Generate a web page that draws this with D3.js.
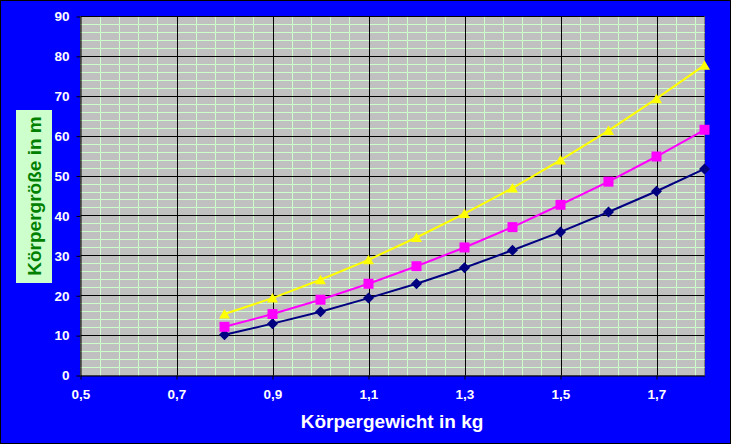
<!DOCTYPE html>
<html>
<head>
<meta charset="utf-8">
<script src="https://cdn.jsdelivr.net/npm/d3@7"></script>
<style>
  html, body { margin: 0; padding: 0; background: #fff; }
  svg { display: block; }
  text { font-family: "Liberation Sans", Arial, sans-serif; }
</style>
</head>
<body>
<svg id="chart" width="731" height="444"></svg>
<script>
// ---- data ----
const weights = [0.8, 0.9, 1.0, 1.1, 1.2, 1.3, 1.4, 1.5, 1.6, 1.7, 1.8];
const seriesNavy = [10.2, 13.0, 16.0, 19.4, 23.0, 27.0, 31.4, 36.0, 41.0, 46.2, 51.8];
const seriesMagenta = [12.2, 15.4, 19.0, 23.0, 27.4, 32.1, 37.2, 42.8, 48.6, 54.9, 61.6];
const seriesYellow = [15.4, 19.4, 24.0, 29.0, 34.6, 40.6, 47.0, 54.0, 61.4, 69.4, 77.8];
const xTickValues = [0.5, 0.7, 0.9, 1.1, 1.3, 1.5, 1.7];
const xTickLabels = ["0,5", "0,7", "0,9", "1,1", "1,3", "1,5", "1,7"];
const yTickValues = [0, 10, 20, 30, 40, 50, 60, 70, 80, 90];
const xTitle = "Körpergewicht in kg";
const yTitle = "Körpergröße in m";

const svg = d3.select("#chart");
const W = 731, H = 444;

// background + border
svg.append("rect").attr("x", 0.5).attr("y", 0.5).attr("width", W - 1).attr("height", H - 1)
  .attr("fill", "#0000FF").attr("stroke", "#000").attr("stroke-width", 1);

const x = d3.scaleLinear().domain([0.5, 1.8]).range([80.5, 704.5]);
const y = d3.scaleLinear().domain([0, 90]).range([375.5, 16.5]);

// plot area
svg.append("rect")
  .attr("x", x(0.5)).attr("y", y(90))
  .attr("width", x(1.8) - x(0.5)).attr("height", y(0) - y(90))
  .attr("fill", "#C0C0C0").attr("stroke", "#808080").attr("stroke-width", 1);

const grid = svg.append("g");
// minor grid
const xMinor = d3.range(0, 33).map(i => 0.5 + i * 0.04).filter(v => v > 0.5 && v < 1.8);
const yMinor = d3.range(1, 45).map(i => i * 2);
grid.selectAll(".vmin").data(xMinor).join("line")
  .attr("x1", d => Math.round(x(d)) + 0.5).attr("x2", d => Math.round(x(d)) + 0.5)
  .attr("y1", y(90)).attr("y2", y(0))
  .attr("stroke", "#CCFFCC").attr("stroke-width", 1);
grid.selectAll(".hmin").data(yMinor).join("line")
  .attr("x1", x(0.5)).attr("x2", x(1.8))
  .attr("y1", d => Math.round(y(d) - 0.5) + 0.5).attr("y2", d => Math.round(y(d) - 0.5) + 0.5)
  .attr("stroke", "#CCFFCC").attr("stroke-width", 1);
// major grid
grid.selectAll(".vmaj").data(xTickValues.slice(1)).join("line")
  .attr("x1", d => Math.round(x(d)) + 0.5).attr("x2", d => Math.round(x(d)) + 0.5)
  .attr("y1", y(90)).attr("y2", y(0))
  .attr("stroke", "#000").attr("stroke-width", 1);
grid.selectAll(".hmaj").data(yTickValues.slice(1)).join("line")
  .attr("x1", x(0.5)).attr("x2", x(1.8))
  .attr("y1", d => Math.round(y(d) - 0.5) + 0.5).attr("y2", d => Math.round(y(d) - 0.5) + 0.5)
  .attr("stroke", "#000").attr("stroke-width", 1);

// axes
const xAxis = d3.axisBottom(x).tickValues(xTickValues)
  .tickFormat((d, i) => xTickLabels[i]).tickSize(4).tickSizeOuter(0).tickPadding(10);
const gx = svg.append("g").attr("transform", `translate(0,${y(0)})`).call(xAxis);
const yAxis = d3.axisLeft(y).tickValues(yTickValues).tickSize(4).tickSizeOuter(0).tickPadding(7);
const gy = svg.append("g").attr("transform", `translate(${x(0.5)},0)`).call(yAxis);
[gx, gy].forEach(g => {
  g.select(".domain").attr("stroke", "#000").attr("stroke-width", 1);
  g.selectAll(".tick line").attr("stroke", "#000");
  g.selectAll(".tick text").attr("fill", "#fff").attr("font-size", 13.5)
    .attr("font-weight", "bold").attr("font-family", "'Liberation Sans', Arial, sans-serif");
});

// marker shapes
const diamondPath = "M0,-5.5L5.5,0L0,5.5L-5.5,0Z";
const squarePath = "M-5,-5H5V5H-5Z";
const trianglePath = "M0,-5L5.5,4.5L-5.5,4.5Z";

const series = [
  { values: seriesNavy, color: "#000080", marker: diamondPath },
  { values: seriesMagenta, color: "#FF00FF", marker: squarePath },
  { values: seriesYellow, color: "#FFFF00", marker: trianglePath }
];
const line = d3.line().x(d => x(d[0])).y(d => y(d[1]));
series.forEach(s => {
  const pts = weights.map((w, i) => [w, s.values[i]]);
  svg.append("path").datum(pts).attr("d", line)
    .attr("fill", "none").attr("stroke", s.color).attr("stroke-width", 2);
  svg.append("g").selectAll("path").data(pts).join("path")
    .attr("transform", d => `translate(${x(d[0])},${y(d[1])})`)
    .attr("d", s.marker)
    .attr("fill", s.color);
});

// x title
svg.append("text").attr("x", 392).attr("y", 428).attr("text-anchor", "middle")
  .attr("fill", "#fff").attr("font-size", 19).attr("font-weight", "bold").text(xTitle);

// y title with box
svg.append("rect").attr("x", 16).attr("y", 110).attr("width", 36).attr("height", 173)
  .attr("fill", "#CCFFCC");
svg.append("text").attr("transform", "translate(41,196) rotate(-90)")
  .attr("text-anchor", "middle").attr("fill", "#008000").attr("font-size", 19)
  .attr("font-weight", "bold").text(yTitle);
</script>
</body>
</html>
